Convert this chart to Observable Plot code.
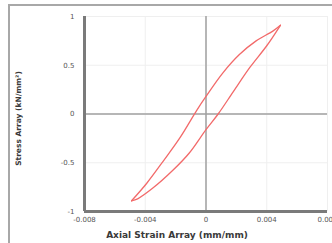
<!DOCTYPE html>
<html>
<head>
<meta charset="utf-8">
<script src="https://cdn.jsdelivr.net/npm/d3@7"></script>
<script src="https://cdn.jsdelivr.net/npm/@observablehq/plot@0.6"></script>
<style>
  html, body { margin: 0; padding: 0; background: #fff; overflow: hidden; width: 332px; height: 243px; }
  #wrap { position: relative; width: 332px; height: 243px; }
  #frame { position: absolute; left: 8px; top: 4px; width: 400px; height: 400px; border: 2px solid #a8a8a8; box-sizing: border-box; }
  #chart { position: absolute; left: 0; top: 0; }
</style>
</head>
<body>
<div id="wrap"><div id="frame"></div><div id="chart"></div></div>
<script>
// Loading (upper) branch: strain increasing from bottom tip to top tip
const upperStrain = [-0.0049, -0.0039, -0.0028, -0.0017, -0.0006, 0.0, 0.0011, 0.0022, 0.0033, 0.0044, 0.0049];
const upperStress = [-0.89, -0.71, -0.48, -0.24, 0.04, 0.18, 0.42, 0.61, 0.75, 0.85, 0.91];
// Unloading (lower) branch: strain decreasing from top tip to bottom tip
const lowerStrain = [0.0049, 0.0040, 0.0029, 0.0018, 0.0008, 0.0, -0.0011, -0.0022, -0.0035, -0.0045, -0.0049];
const lowerStress = [0.91, 0.70, 0.48, 0.23, 0.0, -0.16, -0.40, -0.58, -0.76, -0.87, -0.89];

const xTicks = [-0.008, -0.004, 0, 0.004, 0.008];
const yTicks = [-1, -0.5, 0, 0.5, 1];
const xTitle = "Axial Strain Array (mm/mm)";
const yTitle = "Stress Array (kN/mm²)";

const data = [
  ...upperStrain.map((x, i) => ({x, y: upperStress[i], s: "up"})),
  ...lowerStrain.map((x, i) => ({x, y: lowerStress[i], s: "down"}))
];

const fmt = d => d === 0 ? "0" : String(d);

const chart = Plot.plot({
  width: 332,
  height: 243,
  marginLeft: 84,
  marginRight: 5,
  marginTop: 16,
  marginBottom: 32,
  style: {background: "transparent", fontFamily: "DejaVu Sans, sans-serif", overflow: "visible"},
  x: {domain: [-0.008, 0.008]},
  y: {domain: [-1, 1]},
  marks: [
    Plot.ruleX(xTicks, {stroke: "#efefef", strokeWidth: 1}),
    Plot.ruleY(yTicks, {stroke: "#efefef", strokeWidth: 1}),
    Plot.ruleX([0], {stroke: "#a0a0a0", strokeWidth: 1.5}),
    Plot.ruleY([0], {stroke: "#a0a0a0", strokeWidth: 1.5}),
    Plot.ruleX([-0.008], {stroke: "#7a7a7a", strokeWidth: 3}),
    Plot.ruleY([-1], {stroke: "#7a7a7a", strokeWidth: 3}),
    Plot.axisX({ticks: xTicks, tickFormat: fmt, tickSize: 0, tickPadding: 6, fontSize: 7, fill: "#555", label: null}),
    Plot.axisY({ticks: yTicks, tickFormat: fmt, tickSize: 0, tickPadding: 10, fontSize: 7, fill: "#555", label: null}),
    Plot.line(data, {x: "x", y: "y", z: "s", stroke: "#f26a6a", strokeWidth: 1.3, curve: "catmull-rom"}),
    Plot.text([yTitle], {text: d => d, frameAnchor: "left", textAnchor: "middle", lineAnchor: "middle", rotate: -90, dx: -66, dy: 4.5, fontSize: 7.5, fontWeight: "bold", fill: "#3a3a3a"}),
    Plot.text([xTitle], {text: d => d, frameAnchor: "bottom", textAnchor: "middle", lineAnchor: "middle", dx: -29, dy: 24, fontSize: 9, fontWeight: "bold", fill: "#3a3a3a"})
  ]
});
document.getElementById("chart").appendChild(chart);
</script>
</body>
</html>
